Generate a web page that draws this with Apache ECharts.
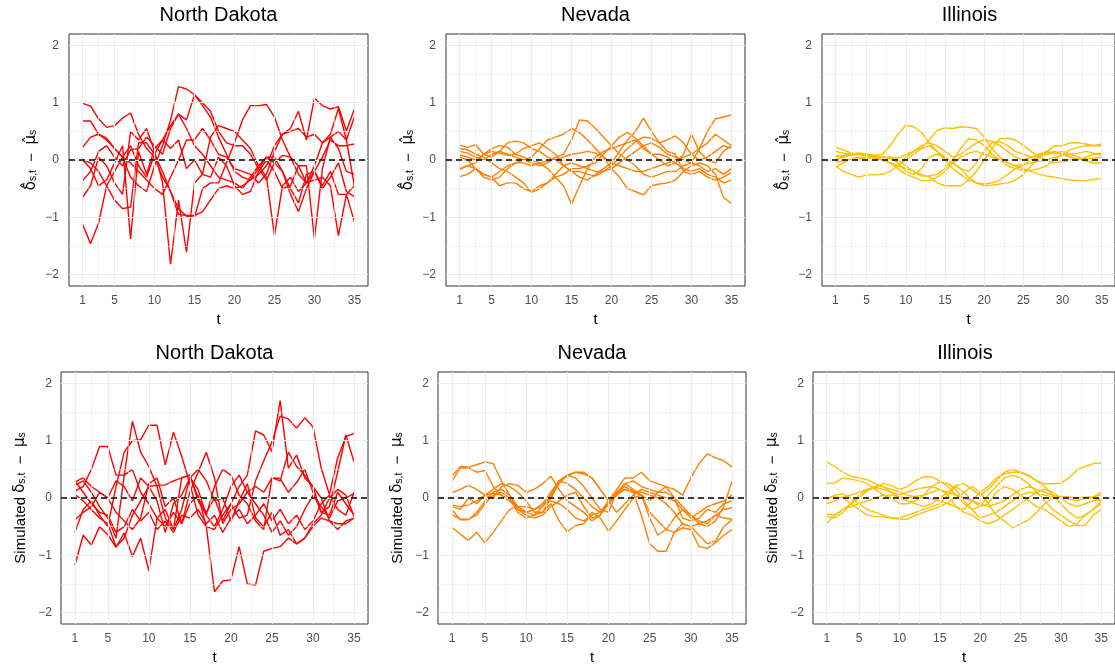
<!DOCTYPE html>
<html><head><meta charset="utf-8">
<script src="https://cdn.jsdelivr.net/npm/echarts@6/dist/echarts.min.js"></script>
<style>html,body{margin:0;padding:0;background:#fff}#c{width:1115px;height:666px}</style>
</head><body><div id="c"></div>
<script>
const tVals = Array.from({length:35},(_,i)=>i+1);
const xTicks = [1,5,10,15,20,25,30,35];
const xMinor = [3,7.5,12.5,17.5,22.5,27.5,32.5];
const yTicks = [-2,-1,0,1,2];
const yMinor = [-1.5,-0.5,0.5,1.5];
const stateNames = ['North Dakota','Nevada','Illinois'];
const stateColors = ['#FF0000','#FF7F00','#FFBF00'];

// Top row: estimated delta_hat - mu_hat
const ndTop = [
 [0.99,0.94,0.72,0.57,0.60,0.73,0.82,0.45,0.20,0.05,-0.30,-0.55,-0.95,-0.97,-0.97,-0.90,-0.70,-0.50,-0.45,-0.50,-0.45,-0.35,-0.25,-0.10,0.25,0.45,0.55,0.85,0.35,1.08,0.95,0.89,0.93,0.51,0.89],
 [0.68,0.68,0.45,0.35,0.20,0.05,-0.05,-0.20,-0.35,-0.50,-0.60,-0.30,0.00,0.35,0.35,0.55,0.35,0.10,0.05,-0.15,-0.20,-0.25,-0.40,-0.25,0.15,0.45,0.50,0.55,0.40,0.45,0.30,0.45,0.90,0.35,0.75],
 [0.22,0.40,0.45,0.38,0.20,0.05,-0.30,-0.45,-0.55,-0.10,0.25,0.70,1.28,1.24,1.14,1.00,0.85,0.50,0.30,0.25,0.25,0.10,-0.15,-0.35,-0.05,0.08,0.05,-0.10,-0.40,-0.20,0.05,0.35,0.25,0.25,0.28],
 [0.00,-0.05,-0.20,-0.45,-0.70,-0.85,-0.82,0.30,0.30,0.10,-0.20,-0.55,-0.85,-0.98,-1.00,-0.50,-0.40,-0.40,-0.05,0.30,0.70,0.95,0.95,0.97,0.75,0.35,0.05,-0.25,-0.40,-0.10,0.30,0.40,0.50,0.35,-0.45],
 [-0.36,-0.20,0.15,0.25,0.05,-0.10,0.18,0.20,0.40,0.25,0.10,0.55,0.80,0.70,1.14,0.95,0.75,0.40,0.10,-0.20,-0.30,-0.35,-0.15,0.05,0.05,-0.20,-0.50,-0.75,-0.25,-0.20,-0.50,-0.30,-0.05,-0.55,-0.64],
 [-0.65,-0.45,0.05,-0.10,-0.40,-0.60,0.50,0.35,0.55,0.15,-0.40,-1.82,-0.70,-1.61,-0.40,-0.25,-0.30,0.05,-0.10,-0.45,-0.60,-0.55,-0.20,0.00,-0.20,-0.50,-0.45,-0.10,-0.10,-1.38,-0.15,0.40,0.20,-0.20,-0.25],
 [0.00,-0.15,-0.45,-0.35,-0.05,0.25,-1.38,0.15,-0.25,0.20,0.35,0.20,0.35,-0.15,0.00,-0.25,0.40,0.60,0.55,0.50,0.35,0.20,-0.10,-0.30,-1.32,-0.45,-0.30,-0.55,-0.40,-0.35,-0.30,-0.45,-1.32,-0.60,-1.08],
 [-1.12,-1.46,-1.10,-0.45,-0.20,0.05,0.25,-0.10,-0.30,0.10,0.35,0.60,0.80,0.55,0.25,0.10,-0.10,-0.30,-0.35,-0.40,-0.50,-0.30,-0.10,0.05,-0.05,-0.20,-0.60,-0.90,-0.50,-0.20,-0.45,-0.20,-0.60,-0.60,-0.45]
];
const nvTop = [
 [0.26,0.22,0.27,0.10,0.05,0.15,0.30,0.33,0.30,0.20,0.15,0.05,0.00,-0.10,-0.20,-0.20,-0.25,-0.28,-0.20,-0.10,0.05,0.20,0.32,0.40,0.38,0.30,0.35,0.42,0.30,0.10,0.00,0.05,0.15,0.25,0.20],
 [0.15,0.12,0.05,0.00,0.10,0.15,0.10,0.05,0.00,-0.05,-0.10,-0.05,0.05,0.10,0.35,0.70,0.68,0.55,0.40,0.25,0.10,0.00,-0.10,-0.25,-0.30,-0.25,-0.20,-0.20,-0.10,-0.05,0.20,0.50,0.72,0.75,0.79],
 [0.09,0.05,0.00,0.10,0.15,0.12,0.08,0.10,0.20,0.25,0.30,0.20,0.10,-0.10,-0.20,-0.30,-0.35,-0.25,-0.15,-0.05,0.15,0.35,0.50,0.73,0.50,0.30,0.15,0.10,-0.20,-0.25,-0.20,-0.30,-0.35,-0.30,-0.22],
 [-0.15,-0.10,-0.05,0.10,0.20,0.25,0.22,0.10,0.05,0.00,-0.05,-0.15,-0.30,-0.45,-0.77,-0.45,-0.15,0.05,0.15,0.20,0.25,0.30,0.35,0.20,0.10,0.00,-0.10,-0.05,0.10,0.45,0.15,0.00,-0.05,0.15,0.25],
 [-0.17,-0.10,-0.15,-0.25,-0.30,-0.45,-0.40,-0.40,-0.50,-0.55,-0.45,-0.40,-0.30,-0.25,-0.15,-0.15,-0.10,-0.05,0.10,0.25,0.40,0.48,0.38,0.25,0.10,0.10,0.05,-0.05,-0.15,-0.20,-0.15,-0.25,-0.30,-0.40,-0.35],
 [-0.29,-0.25,-0.15,-0.25,-0.30,-0.20,-0.10,-0.05,0.00,0.05,0.20,0.35,0.40,0.45,0.55,0.48,0.35,0.20,0.05,-0.15,-0.30,-0.50,-0.55,-0.61,-0.45,-0.42,-0.40,-0.35,-0.20,-0.10,-0.05,-0.10,-0.25,-0.65,-0.76],
 [0.05,0.00,-0.15,-0.30,-0.35,-0.30,-0.15,-0.05,-0.05,-0.10,-0.05,-0.02,0.00,0.05,0.10,0.12,0.15,0.12,0.05,-0.05,-0.10,-0.15,-0.20,-0.20,-0.15,-0.10,-0.05,0.00,0.05,0.10,0.20,0.30,0.45,0.35,0.25],
 [0.20,0.18,0.10,0.05,-0.05,-0.15,-0.20,-0.30,-0.40,-0.57,-0.50,-0.40,-0.25,-0.10,-0.05,-0.10,-0.15,-0.20,-0.20,-0.15,-0.05,0.05,0.15,0.25,0.30,0.22,0.10,0.05,0.00,-0.05,-0.10,-0.20,-0.15,-0.25,-0.15]
];
const ilTop = [
 [0.22,0.18,0.12,0.10,0.08,0.05,0.00,-0.05,-0.15,-0.25,-0.30,-0.36,-0.36,-0.30,-0.20,-0.05,0.05,0.12,0.15,0.10,0.05,0.00,-0.05,-0.10,-0.08,-0.05,-0.02,0.00,0.05,0.08,0.10,0.12,0.15,0.12,0.08],
 [0.15,0.12,0.10,0.12,0.10,0.08,0.10,0.25,0.45,0.61,0.58,0.48,0.30,0.15,0.00,-0.15,-0.25,-0.35,-0.40,-0.42,-0.40,-0.35,-0.25,-0.15,-0.08,0.00,0.05,0.10,0.12,0.15,0.10,0.05,0.00,-0.05,-0.05],
 [0.08,0.05,0.08,0.10,0.08,0.05,0.05,0.02,0.00,-0.10,-0.20,-0.28,-0.28,-0.25,-0.15,0.00,0.20,0.37,0.35,0.25,0.10,0.00,-0.10,-0.15,-0.18,-0.18,-0.15,-0.10,0.00,0.10,0.18,0.22,0.25,0.25,0.28],
 [-0.04,-0.02,0.00,0.02,0.03,0.05,0.05,0.05,0.03,0.10,0.15,0.22,0.35,0.52,0.56,0.55,0.58,0.57,0.55,0.40,0.20,0.05,-0.05,-0.10,-0.15,-0.20,-0.25,-0.28,-0.30,-0.33,-0.35,-0.36,-0.36,-0.34,-0.32],
 [-0.10,-0.20,-0.25,-0.30,-0.26,-0.26,-0.25,-0.20,-0.10,0.00,0.10,0.20,0.25,0.15,0.05,-0.05,-0.15,-0.30,-0.40,-0.45,-0.44,-0.42,-0.40,-0.35,-0.25,-0.10,0.05,0.15,0.25,0.25,0.30,0.30,0.28,0.25,0.25],
 [-0.13,-0.05,0.02,0.05,0.05,0.03,0.00,-0.05,-0.10,-0.15,-0.20,-0.25,-0.30,-0.40,-0.45,-0.45,-0.45,-0.35,-0.20,0.00,0.20,0.37,0.38,0.35,0.25,0.15,0.05,0.00,-0.05,-0.03,0.00,0.02,0.02,0.03,0.05],
 [0.05,0.08,0.10,0.12,0.10,0.08,0.05,0.05,-0.05,-0.20,-0.25,-0.15,0.05,0.10,0.05,-0.05,-0.15,-0.20,-0.05,0.15,0.30,0.32,0.25,0.15,0.10,0.05,0.08,0.12,0.15,0.10,0.05,0.02,-0.02,-0.05,-0.05],
 [0.00,0.05,0.10,0.10,0.08,0.05,0.00,-0.05,-0.10,0.05,0.15,0.25,0.30,0.25,0.15,0.05,0.10,0.20,0.30,0.35,0.33,0.25,0.15,0.05,0.00,0.05,0.10,0.15,0.12,0.10,0.05,0.00,0.05,0.10,0.12]
];
// Bottom row: simulated delta - mu
const ndBot = [
 [0.28,0.35,0.20,0.10,0.00,-0.25,-0.40,-0.55,-0.35,0.25,0.35,-0.15,0.00,-0.45,0.10,0.45,0.80,0.35,-0.45,-0.20,-0.10,0.10,0.20,0.10,0.35,0.34,0.10,0.27,0.50,0.10,-0.25,-0.30,0.10,-0.10,-0.30],
 [0.22,0.30,0.10,-0.15,-0.35,-0.70,0.40,1.34,0.80,0.55,0.20,-0.35,-0.55,-0.20,0.35,0.15,-0.30,-0.50,-0.20,0.20,0.40,0.10,-0.10,-0.30,-0.60,-0.40,-0.65,-0.50,-0.20,0.05,-0.15,-0.35,-0.05,0.00,0.08],
 [0.12,0.20,0.50,0.90,0.90,0.40,0.40,0.50,0.10,-0.10,-0.35,-0.20,-0.55,0.35,0.40,0.00,-0.25,0.00,-0.40,-0.10,-0.35,-0.30,0.30,0.65,0.98,1.43,1.38,1.22,1.40,1.24,0.52,0.06,0.70,1.07,1.13],
 [-0.60,-0.20,-0.05,-0.30,-0.50,0.20,0.80,1.00,1.02,1.27,1.27,0.58,1.15,0.73,0.25,-0.30,-0.50,-0.55,-0.30,-0.10,0.20,0.40,1.17,1.10,0.81,1.70,0.52,0.75,0.35,0.20,-0.25,-0.15,0.45,1.10,0.63],
 [-1.17,-0.65,-0.82,-0.50,-0.64,-0.86,-0.61,-1.02,-0.70,-1.27,-0.35,-0.50,-0.25,-0.45,-0.10,0.05,-0.50,-1.64,-1.45,-1.43,-0.85,-1.50,-1.52,-0.93,-0.88,-0.85,-0.70,-0.80,-0.70,-0.45,-0.30,0.00,0.15,0.05,-0.32],
 [0.06,-0.05,-0.20,-0.35,-0.45,-0.85,-0.70,-0.30,-0.05,0.20,-0.05,-0.60,-0.10,0.05,0.35,0.50,0.30,-0.05,0.00,-0.40,-0.05,0.25,-0.35,-0.50,-0.25,-0.65,-0.55,-0.80,-0.70,-0.50,-0.35,-0.40,-0.55,-0.40,-0.35],
 [-0.38,-0.25,-0.15,0.10,0.00,0.30,0.20,-0.05,0.35,0.20,0.22,0.23,0.30,0.35,0.40,-0.05,-0.30,0.20,0.50,0.40,0.05,-0.10,-0.40,-0.55,0.35,0.30,0.80,0.55,0.40,0.20,0.00,-0.40,-0.45,-0.45,-0.35],
 [0.30,0.10,-0.10,-0.25,-0.30,-0.60,-0.50,-0.20,-0.40,-0.25,-0.55,-0.40,-0.60,-0.30,-0.35,-0.20,-0.45,-0.30,-0.60,-0.35,-0.20,-0.45,-0.30,-0.10,-0.40,-0.20,-0.45,-0.30,-0.55,-0.40,-0.10,0.05,-0.20,-0.30,0.10]
];
const nvBot = [
 [0.38,0.55,0.54,0.58,0.63,0.60,0.30,0.05,-0.15,-0.25,-0.20,-0.15,0.00,0.25,0.40,0.45,0.45,0.35,0.15,-0.05,-0.25,-0.10,0.05,0.15,0.10,0.05,0.00,-0.05,-0.20,-0.35,-0.25,-0.15,-0.10,-0.05,0.05],
 [0.30,0.52,0.53,0.45,0.48,0.20,0.05,-0.05,-0.20,-0.25,-0.30,-0.15,0.05,0.30,0.38,0.45,0.42,0.35,0.15,-0.05,0.15,0.35,0.35,0.45,0.30,0.25,0.20,0.15,0.05,0.35,0.60,0.77,0.70,0.65,0.54],
 [0.09,0.15,0.22,0.15,0.05,0.00,0.20,0.25,0.22,0.10,0.15,0.25,0.38,0.15,-0.05,-0.15,-0.25,-0.40,-0.30,-0.10,0.10,0.25,0.30,0.20,0.15,0.10,0.10,0.00,-0.15,-0.30,-0.40,-0.45,-0.30,-0.20,-0.17],
 [-0.12,-0.15,-0.12,-0.05,0.05,0.15,0.25,0.20,0.10,-0.05,-0.25,-0.25,0.00,0.30,0.40,0.35,0.20,0.00,-0.20,-0.25,0.10,0.15,0.10,0.05,-0.35,-0.65,-0.55,-0.35,-0.20,-0.30,-0.45,-0.40,-0.30,-0.35,-0.37],
 [-0.20,-0.38,-0.38,-0.25,-0.05,0.10,0.15,0.05,-0.20,-0.30,-0.35,-0.30,-0.15,-0.05,0.05,0.10,-0.15,-0.35,-0.30,-0.10,0.05,0.25,0.15,0.05,-0.05,0.10,0.20,0.00,-0.35,-0.40,-0.35,-0.20,-0.25,-0.10,-0.05],
 [-0.29,-0.37,-0.37,-0.30,-0.10,0.05,0.10,0.00,-0.25,-0.35,-0.30,-0.25,-0.10,-0.40,-0.59,-0.48,-0.45,-0.25,-0.35,-0.58,-0.40,-0.20,0.00,0.05,-0.25,-0.40,-0.55,-0.60,-0.52,-0.55,-0.85,-0.88,-0.78,-0.65,-0.55],
 [-0.51,-0.63,-0.74,-0.60,-0.78,-0.60,-0.40,-0.20,-0.15,-0.15,-0.20,-0.10,0.10,0.30,0.25,0.15,0.00,-0.15,-0.25,-0.05,0.05,0.15,0.10,-0.30,-0.80,-0.93,-0.93,-0.60,-0.45,-0.50,-0.65,-0.80,-0.75,-0.50,-0.38],
 [-0.15,-0.20,0.00,-0.10,0.05,0.08,0.05,-0.05,-0.15,-0.25,-0.20,-0.10,-0.05,-0.10,-0.20,-0.35,-0.40,-0.30,-0.25,-0.10,0.10,0.20,0.12,0.10,0.05,0.00,-0.10,-0.25,-0.45,-0.50,-0.45,-0.50,-0.40,-0.15,0.29]
];
const ilBot = [
 [0.63,0.55,0.45,0.38,0.35,0.32,0.25,0.20,0.15,0.10,0.05,0.02,0.00,-0.02,-0.05,-0.10,-0.15,-0.20,-0.05,0.10,0.20,0.35,0.42,0.45,0.45,0.40,0.30,0.25,0.25,0.26,0.35,0.49,0.55,0.60,0.61],
 [0.26,0.26,0.35,0.33,0.30,0.25,0.15,0.05,0.00,-0.10,-0.10,-0.05,0.05,0.20,0.28,0.25,0.15,-0.05,-0.20,-0.35,-0.30,-0.25,-0.15,-0.05,0.05,0.10,0.08,0.05,0.02,0.00,-0.02,-0.05,0.00,0.02,0.05],
 [-0.03,0.05,0.07,0.00,-0.10,-0.20,-0.25,-0.30,-0.35,-0.37,-0.37,-0.30,-0.25,-0.20,-0.15,-0.08,0.00,0.10,0.20,0.10,-0.10,-0.30,-0.40,-0.52,-0.45,-0.38,-0.25,-0.10,0.00,0.03,0.02,0.00,0.00,0.02,0.10],
 [-0.28,-0.30,-0.20,-0.10,0.00,0.12,0.20,0.25,0.22,0.15,0.20,0.30,0.37,0.37,0.30,0.20,0.05,-0.10,-0.20,-0.15,0.05,0.20,0.35,0.40,0.35,0.25,0.10,-0.05,-0.20,-0.30,-0.40,-0.48,-0.48,-0.30,-0.20],
 [-0.32,-0.35,-0.25,-0.10,0.05,0.15,0.20,0.20,0.10,0.00,-0.05,-0.10,-0.15,-0.10,0.00,0.10,0.22,0.25,0.15,0.05,0.15,0.30,0.45,0.50,0.45,0.38,0.30,0.20,0.05,-0.10,-0.25,-0.35,-0.30,-0.20,-0.05],
 [-0.44,-0.30,-0.20,-0.15,-0.10,-0.05,0.00,0.05,0.05,0.02,0.00,0.03,0.05,0.10,0.15,0.05,-0.15,-0.25,-0.30,-0.40,-0.45,-0.40,-0.30,-0.20,-0.10,0.00,0.10,0.15,0.10,0.00,-0.10,-0.15,-0.10,-0.05,-0.02],
 [0.00,0.02,0.00,-0.10,-0.20,-0.30,-0.32,-0.33,-0.35,-0.35,-0.30,-0.25,-0.20,-0.15,-0.10,0.05,0.20,0.10,-0.05,-0.15,-0.10,0.10,0.20,0.15,0.05,-0.05,-0.15,-0.20,-0.30,-0.40,-0.50,-0.45,-0.30,-0.20,-0.10],
 [-0.10,-0.05,0.02,0.05,0.10,0.15,0.18,0.15,0.10,0.05,0.10,0.15,0.18,0.20,0.15,0.10,0.05,0.00,-0.05,-0.10,-0.15,-0.10,-0.05,0.05,0.15,0.20,0.15,0.10,0.05,0.00,0.00,0.00,0.02,0.00,-0.05]
];

const panelData = [ndTop, nvTop, ilTop, ndBot, nvBot, ilBot];
const gridsPx = [
 {left:69, top:34, width:299, height:252},
 {left:446, top:34, width:299, height:252},
 {left:822, top:34, width:299, height:252},
 {left:61, top:372, width:307, height:252},
 {left:438, top:372, width:308, height:252},
 {left:813, top:372, width:308, height:252}
];
const FONT = '"Liberation Sans", Arial, Helvetica, sans-serif';
const GFONT = '"DejaVu Sans", "Liberation Sans", sans-serif';
const minus = v => v < 0 ? '\u2212' + Math.abs(v) : String(v);

const grid = [], xAxis = [], yAxis = [], series = [], graphic = [];
panelData.forEach((lines, p) => {
  const g = gridsPx[p];
  const col = stateColors[p % 3];
  const bottomRow = p >= 3;
  grid.push(Object.assign({show:true, borderColor:'#333333', borderWidth:1, backgroundColor:'#fff', containLabel:false}, g));
  graphic.push({type:'text', x: g.left + g.width/2 - (p%3===2 ? 2 : 0), y: g.top - 19, z:10,
    style:{text: stateNames[p % 3], fontFamily:FONT, fontSize:20, fill:'#000', align:'center', verticalAlign:'middle'}});
  xAxis.push({gridIndex:p, type:'value', min:-0.7, max:36.7,
    axisLine:{show:false}, splitLine:{show:false},
    axisTick:{show:true, customValues:xTicks, length:3, lineStyle:{color:'#333', width:1}},
    axisLabel:{customValues:xTicks, color:'#4d4d4d', fontSize:12, margin:9, fontFamily:FONT},
    name:'t', nameLocation:'middle', nameGap:26, nameTextStyle:{fontSize:15, color:'#000', fontFamily:FONT}});
  const yname = bottomRow ? '{m|Simulated }{g|δ}{s|s,t}{m|  \u2212  }{g|μ}{s|s}' : '{g|δ\u0302}{s|s,t}{m|  \u2212  }{g|μ\u0302}{s|s}';
  yAxis.push({gridIndex:p, type:'value', min:-2.2, max:2.2,
    axisLine:{show:false}, splitLine:{show:false},
    axisTick:{show:true, customValues:yTicks, length:3, lineStyle:{color:'#333', width:1}},
    axisLabel:{customValues:yTicks, color:'#4d4d4d', fontSize:12, margin:bottomRow ? 9 : 10, fontFamily:FONT, formatter:minus},
    name:yname, nameLocation:'middle', nameRotate:90, nameGap: bottomRow ? 33 : 30,
    nameTextStyle:{fontFamily:FONT, color:'#000', rich:{
      m:{fontSize:15, fontFamily:FONT, color:'#000', lineHeight:18, verticalAlign:'bottom'},
      g:{fontSize:15, fontFamily:GFONT, color:'#000', lineHeight:18, verticalAlign:'bottom'},
      s:{fontSize:10.5, fontFamily:FONT, color:'#000', lineHeight:13, verticalAlign:'bottom'}
    }}});
  const gl = [];
  xTicks.forEach(v => gl.push({xAxis:v, lineStyle:{color:'#ebebeb', width:1.1, type:'solid'}}));
  xMinor.forEach(v => gl.push({xAxis:v, lineStyle:{color:'#ebebeb', width:0.6, type:'solid'}}));
  yTicks.forEach(v => gl.push({yAxis:v, lineStyle:{color:'#ebebeb', width:1.1, type:'solid'}}));
  yMinor.forEach(v => gl.push({yAxis:v, lineStyle:{color:'#ebebeb', width:0.6, type:'solid'}}));
  series.push({type:'line', xAxisIndex:p, yAxisIndex:p, data:[[1,0]], symbol:'none', lineStyle:{opacity:0}, silent:true, animation:false, z:1,
    markLine:{silent:true, symbol:['none','none'], animation:false, label:{show:false}, data:gl}});
  lines.forEach(arr => {
    series.push({type:'line', xAxisIndex:p, yAxisIndex:p, data:tVals.map((t,i)=>[t, arr[i]]),
      symbol:'none', showSymbol:false, lineStyle:{color:col, width:1.4}, itemStyle:{color:col}, silent:true, animation:false, z:3});
  });
  series.push({type:'line', xAxisIndex:p, yAxisIndex:p, data:[[1,0]], symbol:'none', lineStyle:{opacity:0}, silent:true, animation:false, z:5,
    markLine:{silent:true, symbol:['none','none'], animation:false, label:{show:false},
      data:[{yAxis:0, lineStyle:{color:'#000', width:1.5, type:[6,4]}}]}});
});

const chart = echarts.init(document.getElementById('c'), null, {renderer:'canvas'});
chart.setOption({animation:false, backgroundColor:'#fff', graphic, grid, xAxis, yAxis, series});
</script></body></html>
